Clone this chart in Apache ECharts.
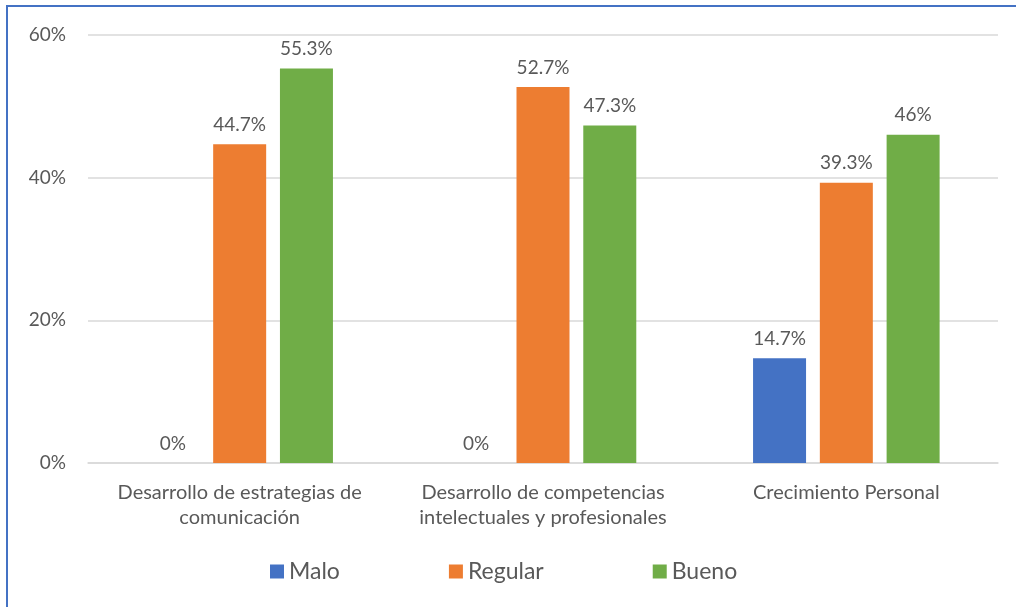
<!DOCTYPE html>
<html>
<head>
<meta charset="utf-8">
<script src="https://cdn.jsdelivr.net/npm/echarts@6/dist/echarts.min.js"></script>
<style>
  html, body { margin: 0; padding: 0; background: #fff; }
  #frame { position: absolute; left: 6px; top: 5px; width: 1010px; height: 602px;
           border-top: 2px solid #4472C4; border-left: 2px solid #4472C4; }
  #main { position: absolute; left: 0; top: 0; width: 1016px; height: 607px; }
</style>
</head>
<body>
<div id="frame"></div>
<div id="main"></div>
<script>
var categories = ['Desarrollo de estrategias de\ncomunicación', 'Desarrollo de competencias\nintelectuales y profesionales', 'Crecimiento Personal'];
var malo = [0, 0, 14.7];
var regular = [44.7, 52.7, 39.3];
var bueno = [55.3, 47.3, 46];
var yTicks = [0, 20, 40, 60];

var font = 'Lato';
var textColor = '#595959';

function barSeries(name, data, color) {
  return {
    name: name,
    type: 'bar',
    data: data,
    barWidth: 53,
    barGap: '26%',
    itemStyle: { color: color },
    label: {
      show: true,
      position: 'top',
      distance: 10,
      formatter: '{c}%',
      color: textColor,
      fontFamily: font,
      fontSize: 19
    }
  };
}

var option = {
  animation: false,
  grid: { left: 88, right: 18, top: 35, bottom: 144 },
  legend: {
    data: ['Malo', 'Regular', 'Bueno'],
    left: 265,
    top: 555,
    itemWidth: 14,
    itemHeight: 14,
    itemGap: 109,
    icon: 'rect',
    textStyle: { color: textColor, fontFamily: font, fontSize: 23 }
  },
  xAxis: {
    type: 'category',
    data: categories,
    axisLine: { lineStyle: { color: '#d9d9d9', width: 1.5 } },
    axisTick: { show: false },
    axisLabel: { interval: 0, color: textColor, fontFamily: font, fontSize: 20, margin: 17, lineHeight: 25 }
  },
  yAxis: {
    type: 'value',
    min: yTicks[0],
    max: yTicks[yTicks.length - 1],
    interval: 20,
    axisLine: { show: false },
    axisTick: { show: false },
    splitLine: { lineStyle: { color: '#d9d9d9', width: 1.5 } },
    axisLabel: { color: textColor, fontFamily: font, fontSize: 19, margin: 22, formatter: '{value}%' }
  },
  series: [
    barSeries('Malo', malo, '#4472C4'),
    barSeries('Regular', regular, '#ED7D31'),
    barSeries('Bueno', bueno, '#70AD47')
  ]
};

var myChart = echarts.init(document.getElementById('main'));
myChart.setOption(option);
</script>
</body>
</html>
